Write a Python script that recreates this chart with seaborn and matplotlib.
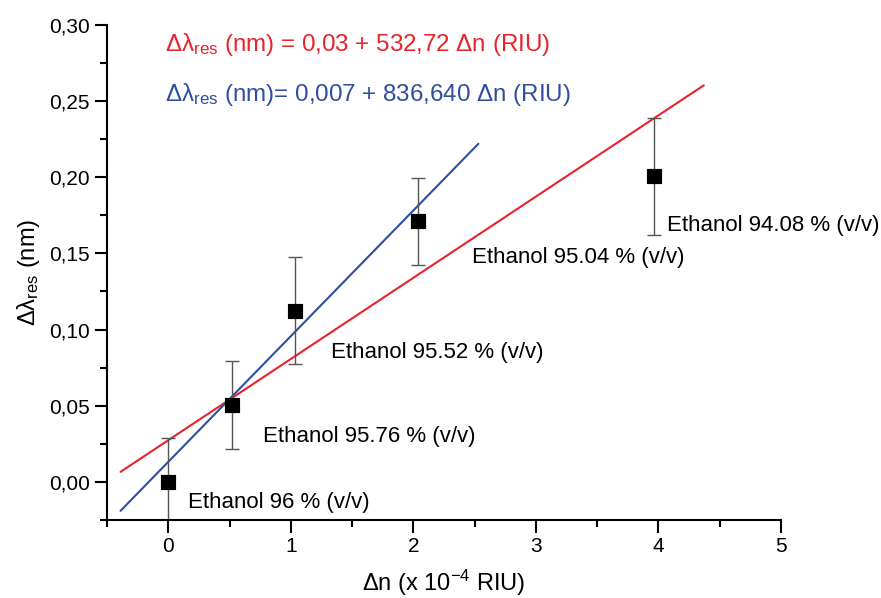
import numpy as np
import pandas as pd
import matplotlib
matplotlib.use("Agg")
import matplotlib.pyplot as plt
from matplotlib.ticker import MultipleLocator, FuncFormatter
import seaborn as sns

# data
delta_n = [0.0, 0.52, 1.035, 2.04, 3.96]
delta_lambda = [0.0, 0.0505, 0.1125, 0.171, 0.2005]
err = [0.029, 0.029, 0.035, 0.0285, 0.0385]
labels = ["Ethanol 96 % (v/v)", "Ethanol 95.76 % (v/v)", "Ethanol 95.52 % (v/v)",
          "Ethanol 95.04 % (v/v)", "Ethanol 94.08 % (v/v)"]
label_dx = [0.16, 0.25, 0.29, 0.44, 0.11]
label_dy = [-0.0135, -0.0205, -0.0275, -0.024, -0.0325]

# fitted lines (intercept, slope, x range)
red_fit = (0.0274, 0.0533, -0.39, 4.37)
blue_fit = (0.0132, 0.0825, -0.39, 2.53)
red_eq = "Δλ$_{res}$ (nm) = 0,03 + 532,72 Δn (RIU)"
blue_eq = "Δλ$_{res}$ (nm)= 0,007 + 836,640 Δn (RIU)"

RED = "#e8232b"
BLUE = "#2f4e9f"

sns.set_style("ticks")
plt.rcParams["font.family"] = ["Liberation Sans", "DejaVu Sans"]
plt.rcParams["mathtext.fontset"] = "custom"
plt.rcParams["mathtext.rm"] = "Liberation Sans"
plt.rcParams["mathtext.it"] = "Liberation Sans"
plt.rcParams["mathtext.default"] = "regular"
for k in ["text.color", "axes.labelcolor", "xtick.color", "ytick.color", "axes.edgecolor"]:
    plt.rcParams[k] = "black"

fig = plt.figure(figsize=(8.81, 5.98), dpi=100)
ax = fig.add_axes([0.1215, 0.1304, 0.765, 0.828])

df = pd.DataFrame({"dn": delta_n, "dl": delta_lambda})

for (b, m, x0, x1), col in [(red_fit, RED), (blue_fit, BLUE)]:
    xs = np.array([x0, x1])
    line_df = pd.DataFrame({"x": xs, "y": b + m * xs})
    sns.lineplot(data=line_df, x="x", y="y", color=col, lw=1.5, ax=ax)

ax.errorbar(delta_n, delta_lambda, yerr=err, fmt="none", ecolor="#555555",
            elinewidth=1.0, capsize=5, capthick=1.0, zorder=2)
sns.scatterplot(data=df, x="dn", y="dl", marker="s", s=110, color="black",
                edgecolor="black", ax=ax, zorder=3)

for x, y, t, dx, dy in zip(delta_n, delta_lambda, labels, label_dx, label_dy):
    ax.text(x + dx, y + dy, t, fontsize=16, va="center", ha="left")

fig.text(165 / 881, 1 - 45 / 598, red_eq, color=RED, fontsize=17.4, va="center")
fig.text(165 / 881, 1 - 95 / 598, blue_eq, color=BLUE, fontsize=17.4, va="center")

ax.set_xlim(-0.5, 5)
ax.set_ylim(-0.025, 0.30)
ax.xaxis.set_major_locator(MultipleLocator(1))
ax.xaxis.set_minor_locator(MultipleLocator(0.5))
ax.yaxis.set_major_locator(MultipleLocator(0.05))
ax.yaxis.set_minor_locator(MultipleLocator(0.025))
ax.yaxis.set_major_formatter(FuncFormatter(lambda v, p: f"{v:.2f}".replace(".", ",")))
ax.tick_params(which="major", length=9, width=1.5, labelsize=15, direction="out")
ax.tick_params(which="minor", length=5, width=1.5, direction="out")
for s in ["left", "bottom"]:
    ax.spines[s].set_linewidth(1.5)
sns.despine(ax=ax)

ax.set_xlabel("Δn (x 10$^{-4}$ RIU)", fontsize=17)
ax.set_ylabel("Δλ$_{res}$ (nm)", fontsize=17)
ax.xaxis.label.set_verticalalignment("center")
ax.yaxis.label.set_verticalalignment("center")
ax.xaxis.set_label_coords(0.5, -0.127)
ax.yaxis.set_label_coords(-0.117, 0.5)

fig.savefig("out.png", dpi=100)
